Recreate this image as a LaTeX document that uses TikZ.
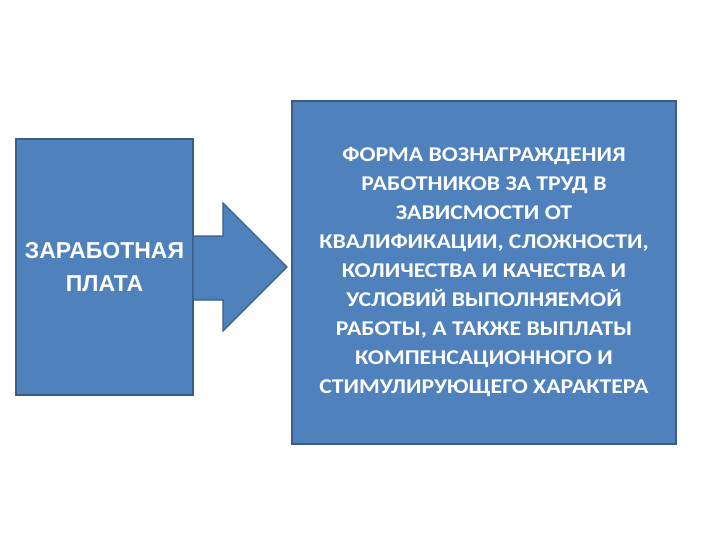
\documentclass[tikz,border=0pt]{standalone}
\usepackage{fontspec}
\setmainfont{Carlito}
\newfontfamily\leftfont{Liberation Sans}
\newfontfamily\rightfont[FakeStretch=1.13]{Carlito}
\definecolor{boxfill}{HTML}{4F81BD}
\definecolor{boxline}{HTML}{385D8A}
\begin{document}
\begin{tikzpicture}[x=1pt,y=-1pt,
  box/.style={draw=boxline,line width=1.2pt,fill=boxfill,text=white,inner sep=0pt,align=center}]
\useasboundingbox (0,0) rectangle (720,540);
\node[box,minimum width=177pt,minimum height=256pt,
  font=\leftfont\fontsize{23}{33}\selectfont\bfseries] (zp) at (104.5,267) {ЗАРАБОТНАЯ\\ПЛАТА};
\node[box,minimum width=384pt,minimum height=343pt,
  font=\rightfont\fontsize{21}{29}\selectfont\bfseries] (def) at (484,272.5)
  {ФОРМА ВОЗНАГРАЖДЕНИЯ\\РАБОТНИКОВ ЗА ТРУД В\\ЗАВИСМОСТИ ОТ\\КВАЛИФИКАЦИИ, СЛОЖНОСТИ,\\КОЛИЧЕСТВА И КАЧЕСТВА И\\УСЛОВИЙ ВЫПОЛНЯЕМОЙ\\РАБОТЫ, А ТАКЖЕ ВЫПЛАТЫ\\КОМПЕНСАЦИОННОГО И\\СТИМУЛИРУЮЩЕГО ХАРАКТЕРА};
\draw[draw=boxline,line width=1.2pt,fill=boxfill]
  (zp.east |- 0,236) -- (223,236) -- (223,203) -- (287,267) -- (223,331)
  -- (223,300) -- (zp.east |- 0,300);
\end{tikzpicture}
\end{document}
